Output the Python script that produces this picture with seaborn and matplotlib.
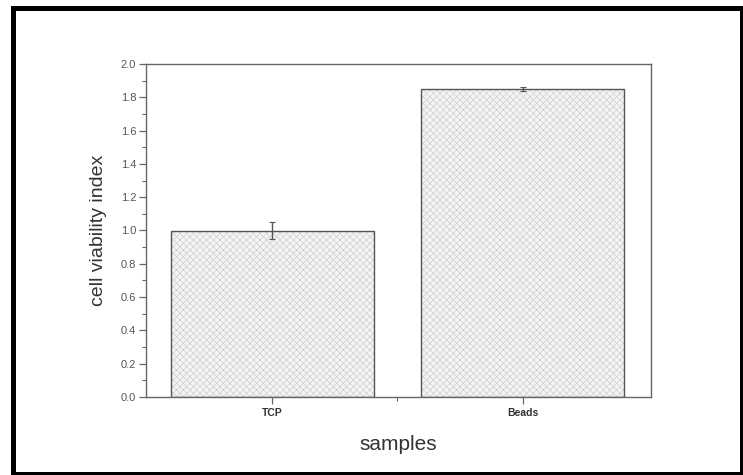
import matplotlib
matplotlib.use("Agg")
import matplotlib.pyplot as plt
from matplotlib.patches import Rectangle
from matplotlib.ticker import MultipleLocator, FixedLocator
import seaborn as sns
import pandas as pd

samples = ["TCP", "Beads"]
viability = [1.0, 1.85]
viability_err = [0.05, 0.01]

sns.set_theme(style="white")
plt.rcParams["font.family"] = ["Liberation Sans", "DejaVu Sans"]
plt.rcParams["hatch.linewidth"] = 0.5

df = pd.DataFrame({"samples": samples, "viability": viability})

fig = plt.figure(figsize=(7.43, 4.75), dpi=100)
ax = fig.add_axes([146 / 743, 1 - 397 / 475, (651 - 146) / 743, (397 - 64) / 475])

sns.barplot(data=df, x="samples", y="viability", errorbar=None, width=0.81,
            color="#f4f4f4", ax=ax)

# light crosshatch fill (hatch takes the edge colour), then a dark outline on top
for bar in list(ax.patches):
    bar.set_hatch("xxxxx")
    bar.set_facecolor("#f4f4f4")
    bar.set_edgecolor("#cfcfcf")
    bar.set_linewidth(0)
    ax.add_patch(Rectangle(bar.get_xy(), bar.get_width(), bar.get_height(),
                           fill=False, edgecolor="#555555", linewidth=1.0, zorder=3))

ax.errorbar([0, 1], viability, yerr=viability_err, fmt="none",
            ecolor="#555555", elinewidth=1.0, capsize=2, capthick=0.8, zorder=4)

ax.set_xlim(-0.504, 1.512)
ax.set_ylim(0, 2.0)
ax.yaxis.set_major_locator(MultipleLocator(0.2))
ax.yaxis.set_minor_locator(MultipleLocator(0.1))
ax.xaxis.set_minor_locator(FixedLocator([0.5]))
ax.set_yticklabels([f"{v:.1f}" for v in ax.get_yticks()])

for side in ["left", "bottom", "top", "right"]:
    ax.spines[side].set_visible(True)
    ax.spines[side].set_color("#666666")
    ax.spines[side].set_linewidth(1.0)

ax.tick_params(axis="y", which="major", direction="out", length=5, width=0.9,
               color="#666666", labelsize=8, labelcolor="#555555", left=True, pad=2)
ax.tick_params(axis="y", which="minor", direction="out", length=3, width=0.8,
               color="#666666", left=True)
ax.tick_params(axis="x", which="major", direction="out", length=5, width=0.9,
               color="#666666", labelsize=7.5, labelcolor="#333333", bottom=True, pad=3)
ax.tick_params(axis="x", which="minor", direction="out", length=3, width=0.8,
               color="#666666", bottom=True)
for lbl in ax.get_xticklabels():
    lbl.set_fontweight("bold")

ax.set_xlabel("samples", fontsize=15, color="#333333", labelpad=12)
ax.set_ylabel("cell viability index", fontsize=14, color="#333333", labelpad=10)

# thick black frame around the whole figure
fig.patches.append(Rectangle((12.5 / 743, 1 - 474 / 475), (742 - 12.5) / 743, (474 - 7.5) / 475,
                             transform=fig.transFigure, fill=False,
                             edgecolor="black", linewidth=3.6))

fig.savefig("out.png", dpi=100, facecolor="white")
